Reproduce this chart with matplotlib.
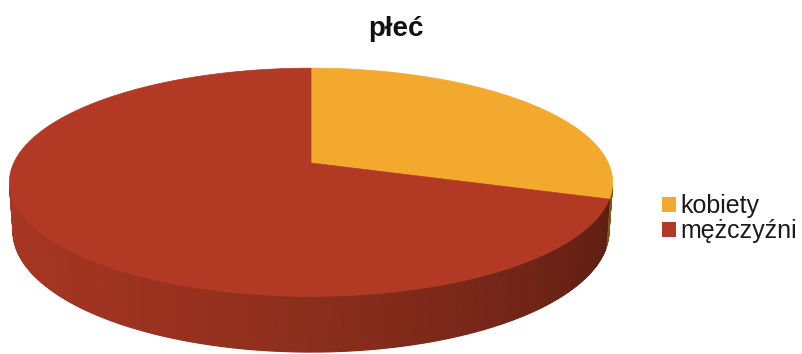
import numpy as np
import matplotlib.pyplot as plt
from matplotlib.patches import Polygon, Patch
from matplotlib.colors import to_rgb

# data
categories = ["kobiety", "mężczyźni"]
values = [30, 70]
colors = ["#F2A92E", "#B23A24"]
title = "płeć"

W, H, DPI = 803, 354, 100
plt.rcParams['font.family'] = ['Liberation Sans', 'DejaVu Sans']
fig = plt.figure(figsize=(W / DPI, H / DPI), dpi=DPI)
ax = fig.add_axes([0, 0, 1, 1])
ax.set_xlim(0, W)
ax.set_ylim(H, 0)
ax.axis('off')

# perspective camera for the 3D pie (unit-radius disc, top face at z=0)
tilt = np.radians(21.9)
s, c = np.sin(tilt), np.cos(tilt)
dist = 5.5
focal = 1635.0
cx, cy = 311.0, 163.0
thick = 0.176


def project(theta, z):
    x = np.cos(theta)
    y = np.sin(theta)
    depth = dist + y * c - z * s
    px = cx + focal * x / depth
    py = cy - focal * (y * s + z * c) / depth
    return px, py


def shade(rgb, nx):
    k = 0.78 - 0.21 * nx - 0.05 * nx ** 2
    return tuple(np.clip(np.array(rgb) * k, 0, 1))


total = float(sum(values))
start = np.pi / 2
bounds = []
a = start
for v in values:
    b = a - 2 * np.pi * v / total
    bounds.append((a, b))
    a = b

# side walls (only the part facing the camera)
for (a0, a1), col in zip(bounds, colors):
    rgb = to_rgb(col)
    n = max(int(abs(a0 - a1) / np.radians(0.5)), 2)
    th = np.linspace(a0, a1, n + 1)
    for t0, t1 in zip(th[:-1], th[1:]):
        tm = 0.5 * (t0 + t1)
        if -dist * c * np.sin(tm) - 1 <= 0:
            continue
        x0t, y0t = project(t0, 0)
        x1t, y1t = project(t1, 0)
        x0b, y0b = project(t0, -thick)
        x1b, y1b = project(t1, -thick)
        fc = shade(rgb, np.cos(tm))
        ax.add_patch(Polygon([(x0t, y0t), (x1t, y1t), (x1b, y1b), (x0b, y0b)],
                             closed=True, facecolor=fc, edgecolor=fc,
                             linewidth=0.8, antialiased=True))

# top faces
for (a0, a1), col in zip(bounds, colors):
    th = np.linspace(a0, a1, 400)
    px, py = project(th, 0)
    pts = [(cx, cy)] + list(zip(px, py))
    ax.add_patch(Polygon(pts, closed=True, facecolor=col, edgecolor=col,
                         linewidth=0.5))

fig.text(396 / W, 1 - 29 / H, title, ha='center', va='center',
         fontsize=20, fontweight='bold', color='#111111')

handles = [Patch(facecolor=col, edgecolor='none') for col in colors]
fig.legend(handles, categories, loc='upper left',
           bbox_to_anchor=(662 / W, 1 - 194 / H), frameon=False,
           fontsize=18, handlelength=0.55, handleheight=0.55,
           handletextpad=0.2, labelspacing=0.05, borderpad=0,
           borderaxespad=0, labelcolor='#1a1a1a')

fig.savefig('out.png', dpi=DPI)
